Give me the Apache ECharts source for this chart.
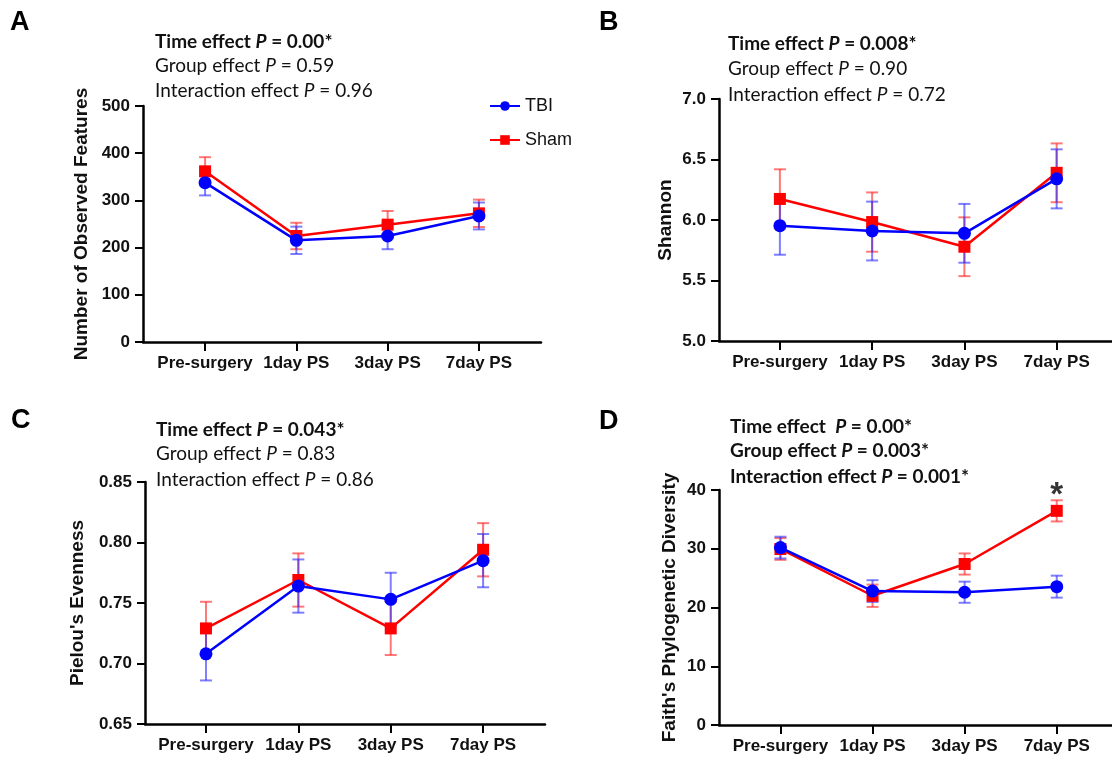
<!DOCTYPE html>
<html lang="en" style="height: 100%">
<head>
    <meta charset="UTF-8">
    <title>Alpha diversity</title>
    <script src="https://cdn.jsdelivr.net/npm/echarts@6/dist/echarts.min.js"></script>
</head>
<body style="height: 100%; margin: 0; background: #fff">
<div id="container" style="width: 1112px; height: 761px"></div>
<script type="text/javascript">
    // time points
    var categories = ['Pre-surgery', '1day PS', '3day PS', '7day PS'];

    // A - observed features
    var obsTBI = [337.6, 215.4, 224.6, 267.0];
    var obsTBIErr = [27, 29, 28, 28.5];
    var obsSham = [361.6, 224.6, 248.6, 272.6];
    var obsShamErr = [30, 28, 29, 29];
    var obsTicks = [0, 100, 200, 300, 400, 500];

    // B - shannon
    var shanTBI = [5.953, 5.909, 5.890, 6.340];
    var shanTBIErr = [0.24, 0.243, 0.243, 0.244];
    var shanSham = [6.174, 5.983, 5.779, 6.390];
    var shanShamErr = [0.245, 0.245, 0.243, 0.243];
    var shanTicks = [5.0, 5.5, 6.0, 6.5, 7.0];

    // C - pielou
    var pielTBI = [0.708, 0.764, 0.753, 0.785];
    var pielTBIErr = [0.022, 0.022, 0.022, 0.022];
    var pielSham = [0.729, 0.769, 0.729, 0.794];
    var pielShamErr = [0.022, 0.022, 0.022, 0.022];
    var pielTicks = [0.65, 0.70, 0.75, 0.80, 0.85];

    // D - faith PD
    var faithTBI = [30.2, 22.8, 22.6, 23.55];
    var faithTBIErr = [1.85, 1.85, 1.8, 1.87];
    var faithSham = [29.96, 22.0, 27.4, 36.45];
    var faithShamErr = [1.85, 1.9, 1.8, 1.8];
    var faithTicks = [0, 10, 20, 30, 40];
    var faithSig = [3]; // index with * over Sham

    var blue = '#0000ff', red = '#ff0000';
    var blueBar = 'rgba(40,40,255,0.6)', redBar = 'rgba(255,30,30,0.6)';

    var panels = [
        {grid: {left: 143, top: 106, width: 398, height: 236}, xr: [-0.68, 3.68],
         ticks: obsTicks, dec: 0, name: 'Number of Observed Features', nameGap: 52,
         tbi: obsTBI, tbiE: obsTBIErr, sham: obsSham, shamE: obsShamErr},
        {grid: {left: 719, top: 99, width: 393, height: 242}, xr: [-0.66, 3.6],
         ticks: shanTicks, dec: 1, name: 'Shannon', nameGap: 44,
         tbi: shanTBI, tbiE: shanTBIErr, sham: shanSham, shamE: shanShamErr},
        {grid: {left: 145, top: 482, width: 400, height: 242}, xr: [-0.66, 3.67],
         ticks: pielTicks, dec: 2, name: "Pielou's Evenness", nameGap: 58,
         tbi: pielTBI, tbiE: pielTBIErr, sham: pielSham, shamE: pielShamErr},
        {grid: {left: 719, top: 490, width: 393, height: 235}, xr: [-0.667, 3.6],
         ticks: faithTicks, dec: 0, name: "Faith's Phylogenetic Diversity", nameGap: 40,
         tbi: faithTBI, tbiE: faithTBIErr, sham: faithSham, shamE: faithShamErr}
    ];

    var tickFont = {fontFamily: 'Arial, Liberation Sans', fontWeight: 'bold', fontSize: 17, color: '#111'};

    var grids = [], xAxes = [], yAxes = [], series = [];

    function errBars(i, vals, errs, color) {
        var data = vals.map(function (v, k) { return [k, v - errs[k], v + errs[k]]; });
        return {
            type: 'custom', xAxisIndex: i, yAxisIndex: i, z: 1,
            data: data,
            encode: {x: 0, y: [1, 2]},
            renderItem: function (params, api) {
                var x = api.value(0);
                var lo = api.coord([x, api.value(1)]);
                var hi = api.coord([x, api.value(2)]);
                var w = 6;
                var st = {stroke: color, lineWidth: 2};
                return {type: 'group', children: [
                    {type: 'line', shape: {x1: lo[0], y1: lo[1], x2: hi[0], y2: hi[1]}, style: st},
                    {type: 'line', shape: {x1: lo[0] - w, y1: lo[1], x2: lo[0] + w, y2: lo[1]}, style: st},
                    {type: 'line', shape: {x1: hi[0] - w, y1: hi[1], x2: hi[0] + w, y2: hi[1]}, style: st}
                ]};
            }
        };
    }

    panels.forEach(function (p, i) {
        grids.push(p.grid);
        xAxes.push({
            type: 'value', gridIndex: i, min: p.xr[0], max: p.xr[1],
            axisLine: {onZero: false, lineStyle: {color: '#000', width: 2.5}}, splitLine: {show: false},
            axisTick: {customValues: [0, 1, 2, 3], length: 9, lineStyle: {color: '#000', width: 2}},
            axisLabel: Object.assign({customValues: [0, 1, 2, 3], margin: 13,
                formatter: function (v) { return categories[Math.round(v)]; }}, tickFont)
        });
        var step = p.ticks[1] - p.ticks[0];
        yAxes.push({
            type: 'value', gridIndex: i, min: p.ticks[0], max: p.ticks[p.ticks.length - 1], interval: step,
            axisLine: {show: true, onZero: false, lineStyle: {color: '#000', width: 2.5}}, splitLine: {show: false},
            axisTick: {show: true, length: 8, lineStyle: {color: '#000', width: 2}},
            axisLabel: Object.assign({margin: 13, formatter: function (v) { return v.toFixed(p.dec); }}, tickFont),
            name: p.name, nameLocation: 'middle', nameRotate: 90, nameGap: p.nameGap,
            nameTextStyle: {fontFamily: 'Arial, Liberation Sans', fontWeight: 'bold', fontSize: 19, color: '#111'}
        });
        series.push(errBars(i, p.sham, p.shamE, redBar));
        series.push(errBars(i, p.tbi, p.tbiE, blueBar));
        series.push({
            name: 'Sham', type: 'line', xAxisIndex: i, yAxisIndex: i, z: 3,
            data: p.sham.map(function (v, k) { return [k, v]; }),
            symbol: 'rect', symbolSize: 12, color: red,
            lineStyle: {color: red, width: 2.5}, itemStyle: {color: red}
        });
        series.push({
            name: 'TBI', type: 'line', xAxisIndex: i, yAxisIndex: i, z: 4,
            data: p.tbi.map(function (v, k) { return [k, v]; }),
            symbol: 'circle', symbolSize: 13, color: blue,
            lineStyle: {color: blue, width: 2.5}, itemStyle: {color: blue}
        });
    });

    // significance mark in D
    series.push({
        type: 'scatter', xAxisIndex: 3, yAxisIndex: 3, symbolSize: 0, z: 5,
        data: faithSig.map(function (k) { return [k, faithSham[k] + faithShamErr[k]]; }),
        label: {show: true, position: 'top', distance: -12, formatter: '*',
            fontFamily: 'Arial', fontWeight: 'bold', fontSize: 33, color: '#000'},
        silent: true
    });

    var annFont = 'Lato, Calibri, sans-serif';
    function ann(x, y, pre, post, bold) {
        var w = bold ? 'bold' : 'normal';
        return {
            type: 'text', left: x, top: y,
            style: {
                text: '{a|' + pre + '}{p|P}{a|' + post + '}',
                rich: {
                    a: {fontFamily: annFont, fontSize: 19, fontWeight: w, fill: '#111'},
                    p: {fontFamily: annFont, fontSize: 19, fontWeight: w, fontStyle: 'italic', fill: '#111'}
                }
            }
        };
    }
    function letter(x, y, t) {
        return {type: 'text', left: x, top: y,
            style: {text: t, fontFamily: 'Arial', fontWeight: 'bold', fontSize: 27, fill: '#000'}};
    }

    var inter = 'Interaction effect ';
    var graphics = [
        letter(10, 9, 'A'), letter(599, 9, 'B'), letter(11, 407, 'C'), letter(599, 408, 'D'),
        ann(155, 32, 'Time effect ', ' = 0.00*', true),
        ann(155, 56, 'Group effect ', ' = 0.59', false),
        ann(155, 81, inter, ' = 0.96', false),
        ann(728, 34, 'Time effect ', ' = 0.008*', true),
        ann(728, 59, 'Group effect ', ' = 0.90', false),
        ann(728, 85, inter, ' = 0.72', false),
        ann(156, 420, 'Time effect ', ' = 0.043*', true),
        ann(156, 444, 'Group effect ', ' = 0.83', false),
        ann(156, 470, inter, ' = 0.86', false),
        ann(730, 417, 'Time effect  ', ' = 0.00*', true),
        ann(730, 441, 'Group effect ', ' = 0.003*', true),
        ann(730, 467, inter, ' = 0.001*', true)
    ];

    var myChart = echarts.init(document.getElementById('container'));
    var option = {
        animation: false,
        backgroundColor: '#fff',
        grid: grids,
        xAxis: xAxes,
        yAxis: yAxes,
        legend: {
            data: ['TBI', 'Sham'], orient: 'vertical', left: 484, top: 92,
            itemWidth: 30, itemHeight: 12, itemGap: 16,
            textStyle: {fontFamily: 'Arial', fontSize: 18, color: '#111'}
        },
        graphic: graphics,
        series: series
    };
    myChart.setOption(option);
</script>
</body>
</html>
